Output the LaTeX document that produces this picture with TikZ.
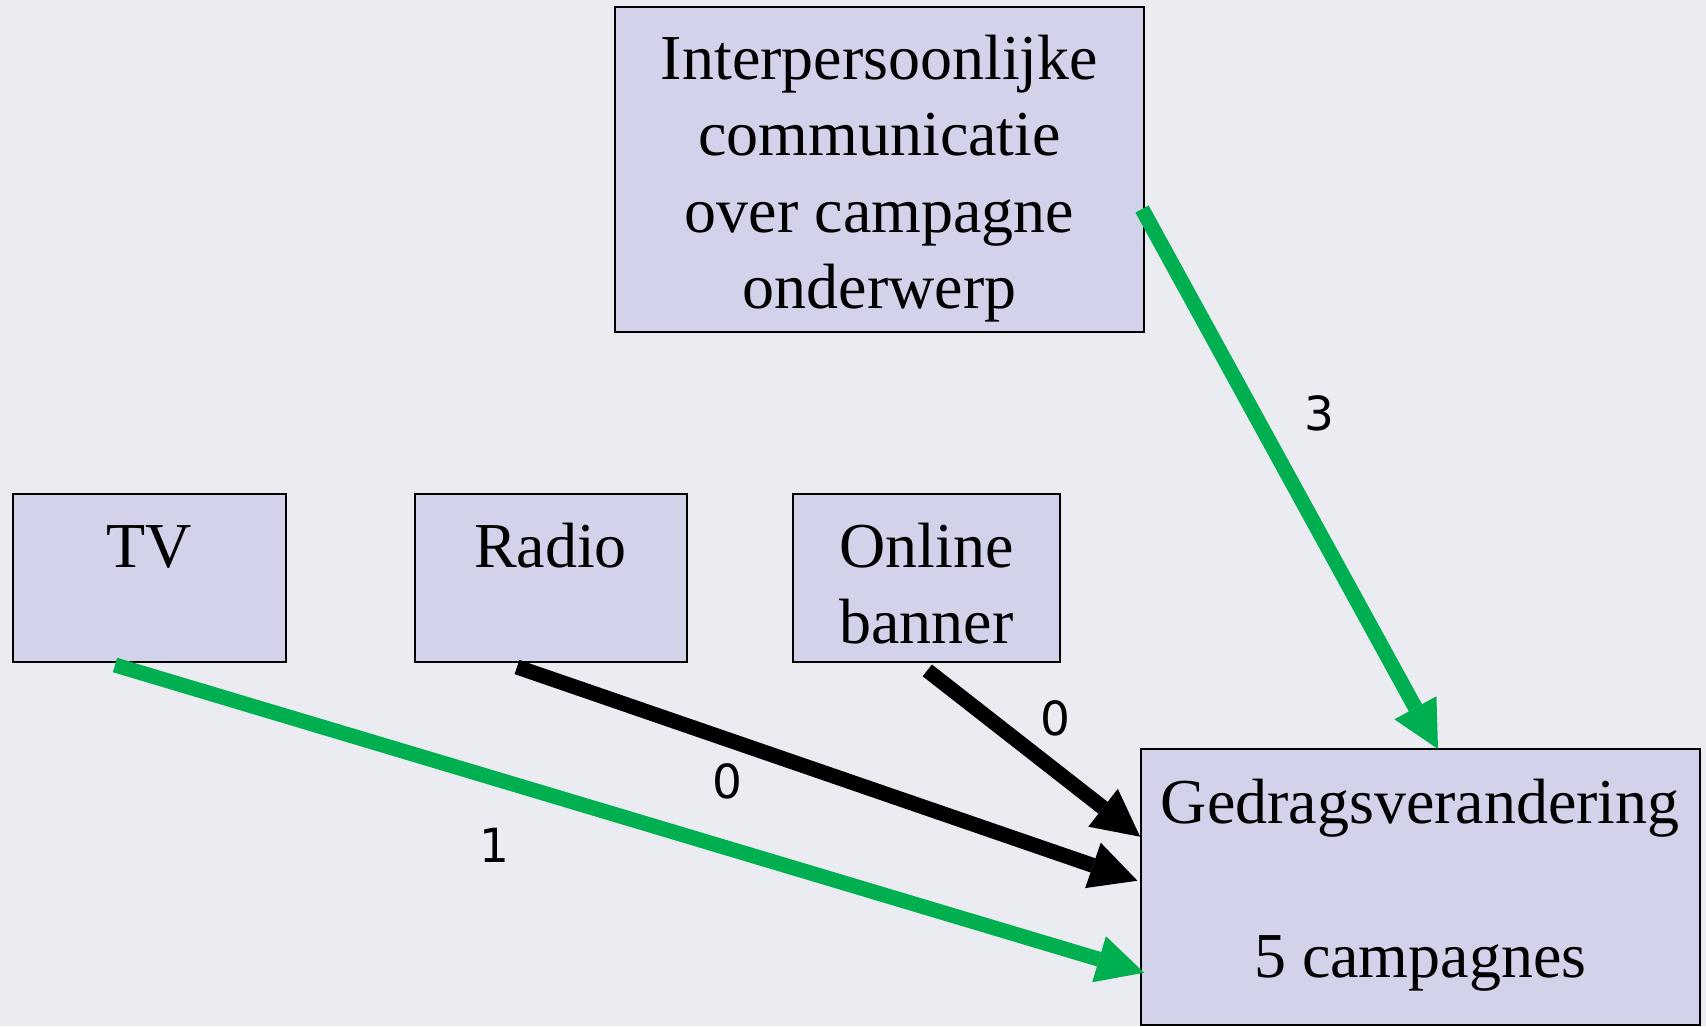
\documentclass[tikz,border=0pt]{standalone}
\usepackage{fontspec}
\newfontfamily\boxfont{Liberation Serif}
\newfontfamily\numfont{DejaVu Sans}
\usetikzlibrary{arrows.meta}
\definecolor{canvas}{RGB}{235,236,241}
\definecolor{boxfill}{RGB}{210,210,234}
\definecolor{linkgreen}{RGB}{0,176,80}
\begin{document}
\begin{tikzpicture}[x=1pt,y=-1pt,
  box/.style={draw=black, line width=2pt, fill=boxfill, inner sep=0pt, outer sep=0pt},
  txt/.style={font=\boxfont\fontsize{64}{76}\selectfont, anchor=base, inner sep=0pt},
  weight/.style={font=\numfont\fontsize{47}{56}\selectfont, inner sep=0pt},
  link/.style={line width=15pt, -{Triangle[length=47pt,width=48pt,line width=0pt]}},
  poslink/.style={link, draw=linkgreen, fill=linkgreen},
  nullink/.style={link, draw=black, fill=black}]

% canvas
\fill[canvas] (0,0) rectangle (1706,1026);
\useasboundingbox (0,0) rectangle (1706,1026);

% boxes
\node[box, minimum width=529pt, minimum height=325pt] (interp) at (879.5,169.5) {};
\node[box, minimum width=273pt, minimum height=168pt] (tv) at (149.5,578) {};
\node[box, minimum width=272pt, minimum height=168pt] (radio) at (550.5,578) {};
\node[box, minimum width=267pt, minimum height=168pt] (online) at (926.5,578) {};
\node[box, minimum width=559pt, minimum height=276pt] (ged) at (1420.3,887) {};

% box texts
\node[txt] (interp1) at (879.5,79) {Interpersoonlijke};
\node[txt] (interp2) at (879.5,155.5) {communicatie};
\node[txt] (interp3) at (879.5,232) {over campagne};
\node[txt] (interp4) at (879.5,308.5) {onderwerp};
\node[txt] (tvtxt) at (149.5,567) {TV};
\node[txt] (radiotxt) at (550.5,567) {Radio};
\node[txt] (online1) at (926.5,567) {Online};
\node[txt] (online2) at (926.5,643) {banner};
\node[txt] (ged1) at (1420.3,823) {Gedragsverandering};
\node[txt] (ged2) at (1420.3,977) {5 campagnes};

% connectors
\draw[poslink] ([shift={(-2,39.5)}]interp.east) -- ([shift={(17.7,0)}]ged.north);
\draw[poslink] ([shift={(-34.5,3)}]tv.south) -- ([shift={(3.3,85.7)}]ged.west);
\draw[nullink] ([shift={(-33.5,5)}]radio.south) -- ([shift={(-3.4,-6.3)}]ged.west);
\draw[nullink] ([shift={(0.8,8.4)}]online.south) -- ([shift={(-0.7,-50.3)}]ged.west);

% weights
\node[weight] (w3) at (1319,413) {3};
\node[weight] (w1) at (494,845) {1};
\node[weight] (w0a) at (727,781) {0};
\node[weight] (w0b) at (1055,718) {0};
\end{tikzpicture}
\end{document}
